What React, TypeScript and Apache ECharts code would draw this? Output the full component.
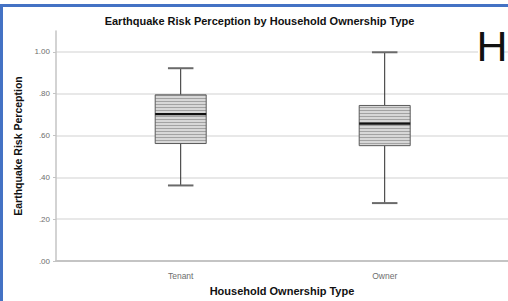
import React, { useEffect, useRef } from "react";
import * as echarts from "echarts";

const categories = ["Tenant", "Owner"];
// [min, Q1, median, Q3, max]
const tenantStats = [0.374, 0.571, 0.709, 0.8, 0.925];
const ownerStats = [0.291, 0.561, 0.665, 0.75, 1.0];
const yTickValues = [0, 0.2, 0.4, 0.6, 0.8, 1.0];

const titleText = "Earthquake Risk Perception by Household Ownership Type";
const xName = "Household Ownership Type";
const yName = "Earthquake Risk Perception";

const FONT = "'Liberation Sans', Arial, sans-serif";

function fmt(v: number): string {
  const s = v.toFixed(2);
  return s.startsWith("0") ? s.slice(1) : s;
}

export default function App() {
  const ref = useRef<HTMLDivElement>(null);
  useEffect(() => {
    if (!ref.current) return;
    const chart = echarts.init(ref.current, null, { renderer: "svg" });

    const c = document.createElement("canvas");
    c.width = 4;
    c.height = 3;
    const ctx = c.getContext("2d")!;
    ctx.fillStyle = "#d7d7d7";
    ctx.fillRect(0, 0, 4, 3);
    ctx.fillStyle = "#a2a2a2";
    ctx.fillRect(0, 2, 4, 1);
    const pattern: any = { image: c, repeat: "repeat", imageWidth: 4, imageHeight: 3 };

    const boxData = [tenantStats, ownerStats].map((s, i) => [i, ...s]);

    const option: any = {
      animation: false,
      backgroundColor: "#ffffff",
      textStyle: { fontFamily: FONT },
      grid: [
        { left: 56, right: 0, top: 31, bottom: 36 },
        { left: 78.7, right: 21.3, top: 31, bottom: 36 },
      ],
      xAxis: [
        {
          gridIndex: 0,
          type: "value",
          min: 0,
          max: 1,
          axisLine: { show: true, lineStyle: { color: "#c4c4c4", width: 2 } },
          axisTick: { show: false },
          axisLabel: { show: false },
          splitLine: { show: false },
          name: xName,
          nameLocation: "middle",
          nameGap: 24,
          nameTextStyle: { fontFamily: FONT, fontWeight: "bold", fontSize: 11, color: "#111" },
        },
        {
          gridIndex: 1,
          type: "category",
          data: categories,
          axisLine: { show: false },
          axisTick: { show: false },
          axisLabel: { fontFamily: FONT, fontSize: 8.5, color: "#6e6e6e", margin: 6 },
          splitLine: { show: false },
        },
      ],
      yAxis: [
        {
          gridIndex: 0,
          type: "value",
          min: 0,
          max: 1.1,
          interval: 0.2,
          axisLine: { show: true, lineStyle: { color: "#c4c4c4", width: 1.5 } },
          axisTick: { show: true, length: 3, lineStyle: { color: "#c4c4c4" } },
          axisLabel: {
            fontFamily: FONT,
            fontSize: 8,
            color: "#6e6e6e",
            margin: 6,
            showMaxLabel: false,
            formatter: (v: number) => (yTickValues.some((t) => Math.abs(t - v) < 1e-6) ? fmt(v) : ""),
          },
          splitLine: { show: true, showMaxLine: false, lineStyle: { color: "#e0e0e0", width: 1.5 } },
          name: yName,
          nameLocation: "middle",
          nameGap: 30,
          nameTextStyle: { fontFamily: FONT, fontWeight: "bold", fontSize: 10.5, color: "#111" },
        },
        {
          gridIndex: 1,
          type: "value",
          min: 0,
          max: 1.1,
          show: false,
        },
      ],
      series: [
        {
          type: "custom",
          xAxisIndex: 1,
          yAxisIndex: 1,
          data: boxData,
          encode: { x: 0, y: [1, 2, 3, 4, 5] },
          renderItem: (params: any, api: any) => {
            const xi = api.value(0);
            const pMin = api.coord([xi, api.value(1)]);
            const pQ1 = api.coord([xi, api.value(2)]);
            const pMed = api.coord([xi, api.value(3)]);
            const pQ3 = api.coord([xi, api.value(4)]);
            const pMax = api.coord([xi, api.value(5)]);
            const band = api.size([1, 0])[0];
            const bw = band * 0.25;
            const cw = bw / 2;
            const cx = pMed[0];
            const whisker = { stroke: "#2a2a2a", lineWidth: 1 };
            const cap = { stroke: "#6a6a6a", lineWidth: 2 };
            return {
              type: "group",
              children: [
                { type: "line", shape: { x1: cx, y1: pMax[1], x2: cx, y2: pQ3[1] }, style: whisker },
                { type: "line", shape: { x1: cx, y1: pQ1[1], x2: cx, y2: pMin[1] }, style: whisker },
                { type: "line", shape: { x1: cx - cw / 2, y1: pMax[1], x2: cx + cw / 2, y2: pMax[1] }, style: cap },
                { type: "line", shape: { x1: cx - cw / 2, y1: pMin[1], x2: cx + cw / 2, y2: pMin[1] }, style: cap },
                {
                  type: "rect",
                  shape: { x: cx - bw / 2, y: pQ3[1], width: bw, height: pQ1[1] - pQ3[1] },
                  style: { fill: pattern, stroke: "#5a5a5a", lineWidth: 1 },
                },
                {
                  type: "line",
                  shape: { x1: cx - bw / 2, y1: pMed[1], x2: cx + bw / 2, y2: pMed[1] },
                  style: { stroke: "#111", lineWidth: 2.2 },
                },
              ],
            };
          },
        },
      ],
      graphic: [
        { type: "rect", shape: { x: 0, y: 4, width: 508, height: 3 }, style: { fill: "#4472c4" }, silent: true },
        { type: "rect", shape: { x: 0, y: 4, width: 3, height: 297 }, style: { fill: "#4472c4" }, silent: true },
        {
          type: "text",
          x: 259.5,
          y: 21,
          style: {
            text: titleText,
            fontFamily: FONT,
            fontWeight: "bold",
            fontSize: 11,
            fill: "#111",
            textAlign: "center",
            textVerticalAlign: "middle",
          },
        },
        {
          type: "rect",
          z: 100,
          shape: { x: 478, y: 28, width: 26, height: 34 },
          style: { fill: "#ffffff" },
          silent: true,
        },
        {
          type: "text",
          z: 101,
          x: 492,
          y: 46,
          style: {
            text: "H",
            fontFamily: FONT,
            fontSize: 43,
            fill: "#111",
            textAlign: "center",
            textVerticalAlign: "middle",
          },
        },
      ],
    };
    chart.setOption(option);
    return () => chart.dispose();
  }, []);

  return (
    <div
      ref={ref}
      style={{ position: "absolute", left: 0, top: 0, width: 508, height: 301 }}
    />
  );
}
